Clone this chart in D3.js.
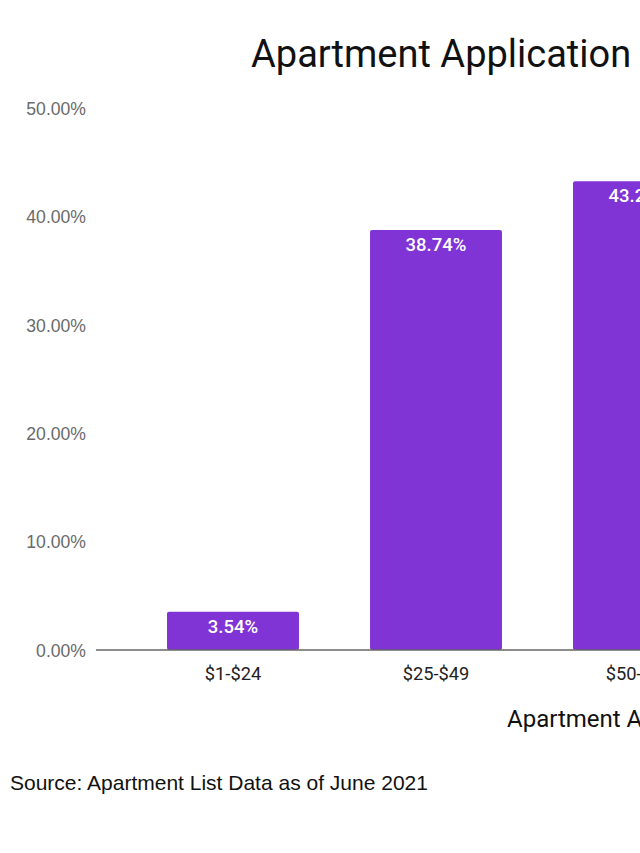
<!DOCTYPE html>
<html><head><meta charset="utf-8">
<script src="https://cdn.jsdelivr.net/npm/d3@7"></script>
<style>body{margin:0;background:#fff}svg{display:block}</style>
</head><body>
<svg id="c" width="640" height="853"></svg>
<script>
const categories = ["$1-$24", "$25-$49", "$50-$74"];
const values = [3.54, 38.74, 43.24];
const yTicks = [0, 10, 20, 30, 40, 50];
const title = "Apartment Application Fees";
const xTitle = "Apartment Application Fee";
const source = "Source: Apartment List Data as of June 2021";

const svg = d3.select("#c");
const y = d3.scaleLinear().domain([0, 50]).range([650, 108]);
const x = d3.scaleBand().domain(categories)
  .range([131.5, 131.5 + categories.length * 203])
  .paddingInner(0.35).paddingOuter(0.175);

svg.append("text").attr("x", 251).attr("y", 67)
  .attr("font-family", "Roboto, sans-serif").attr("font-size", 38)
  .attr("fill", "#111").text(title);

// y axis labels
const yAxis = d3.axisLeft(y).tickValues(yTicks).tickSize(0).tickPadding(0)
  .tickFormat(d => d.toFixed(2) + "%");
const ya = svg.append("g").attr("transform", "translate(86,0)").call(yAxis);
ya.select(".domain").remove();
ya.selectAll("text").attr("font-family", "Liberation Sans, Arial, sans-serif")
  .attr("font-size", 17.6).attr("fill", "#6a6a6a").attr("dy", "0.36em");

// bars
svg.append("g").selectAll("rect").data(categories).join("rect")
  .attr("x", d => x(d)).attr("width", x.bandwidth())
  .attr("y", (d, i) => y(values[i])).attr("height", (d, i) => y(0) - y(values[i]))
  .attr("rx", 2).attr("fill", "#8034d6");

// value labels
svg.append("g").selectAll("text").data(categories).join("text")
  .attr("x", d => x(d) + x.bandwidth() / 2)
  .attr("y", (d, i) => y(values[i]) + 21)
  .attr("text-anchor", "middle")
  .attr("font-family", "Roboto, sans-serif").attr("font-weight", 500)
  .attr("font-size", 18.5).attr("fill", "#fff")
  .text((d, i) => values[i].toFixed(2) + "%");

// x axis
const xAxis = d3.axisBottom(x).tickSize(0).tickPadding(0);
const xa = svg.append("g").attr("transform", "translate(0,650)").call(xAxis);
xa.select(".domain").remove();
xa.selectAll("text").attr("font-family", "Roboto, sans-serif")
  .attr("font-size", 18.3).attr("fill", "#222").attr("dy", null).attr("y", 30);
svg.append("line").attr("x1", 96).attr("x2", 640).attr("y1", 650).attr("y2", 650)
  .attr("stroke", "#666").attr("stroke-width", 1.5);

svg.append("text").attr("x", 507).attr("y", 727)
  .attr("font-family", "Roboto, sans-serif").attr("font-size", 24)
  .attr("fill", "#111").text(xTitle);

svg.append("text").attr("x", 10).attr("y", 790)
  .attr("font-family", "Liberation Sans, Arial, sans-serif").attr("font-size", 21)
  .attr("fill", "#111").text(source);
</script>
</body></html>
